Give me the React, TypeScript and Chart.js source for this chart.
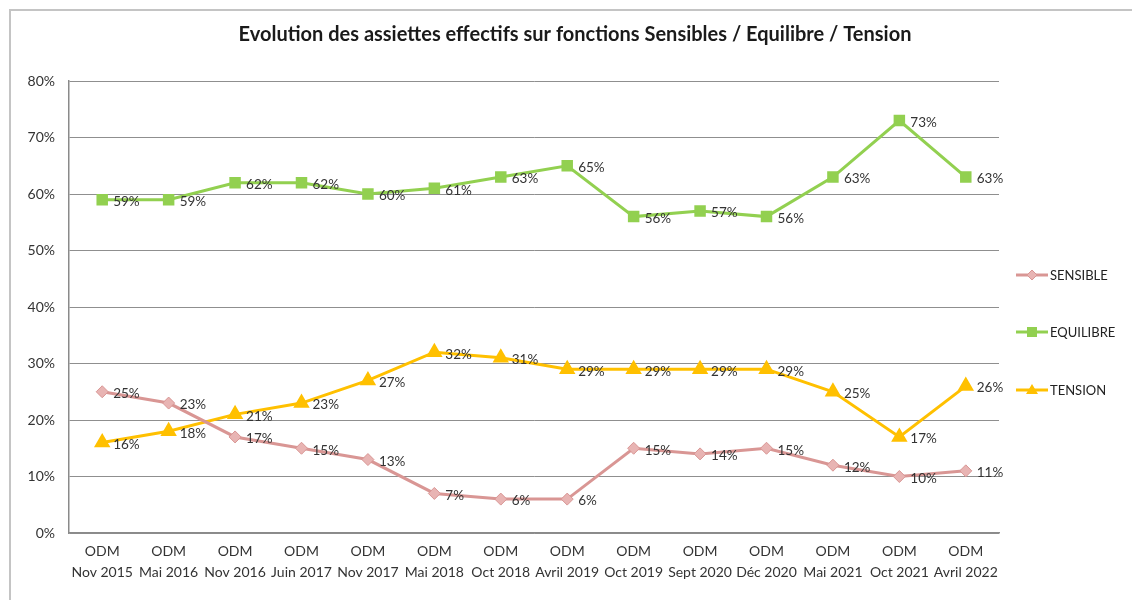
import React, { useEffect, useRef } from "react";
import { Chart, registerables } from "chart.js";

Chart.register(...registerables);

const categories: string[][] = [
  ["ODM", "Nov 2015"], ["ODM", "Mai 2016"], ["ODM", "Nov 2016"], ["ODM", "Juin 2017"],
  ["ODM", "Nov 2017"], ["ODM", "Mai 2018"], ["ODM", "Oct 2018"], ["ODM", "Avril 2019"],
  ["ODM", "Oct 2019"], ["ODM", "Sept 2020"], ["ODM", "Déc 2020"], ["ODM", "Mai 2021"],
  ["ODM", "Oct 2021"], ["ODM", "Avril 2022"],
];
const sensible = [25, 23, 17, 15, 13, 7, 6, 6, 15, 14, 15, 12, 10, 11];
const equilibre = [59, 59, 62, 62, 60, 61, 63, 65, 56, 57, 56, 63, 73, 63];
const tension = [16, 18, 21, 23, 27, 32, 31, 29, 29, 29, 29, 25, 17, 26];
const titleText = "Evolution des assiettes effectifs sur fonctions Sensibles / Equilibre / Tension";
const FONT = "Lato, 'Open Sans', sans-serif";

const overlay = {
  id: "overlay",
  beforeDraw(chart: any) {
    const ctx = chart.ctx;
    ctx.save();
    ctx.fillStyle = "#ffffff";
    ctx.fillRect(0, 0, chart.width, chart.height);
    ctx.strokeStyle = "#c4c4c4";
    ctx.lineWidth = 2;
    ctx.beginPath();
    ctx.moveTo(10, 600);
    ctx.lineTo(10, 10);
    ctx.lineTo(1132, 10);
    ctx.stroke();
    ctx.restore();
  },
  afterDatasetsDraw(chart: any) {
    const ctx = chart.ctx;
    ctx.save();
    ctx.font = `13.5px ${FONT}`;
    ctx.fillStyle = "#333333";
    ctx.textAlign = "left";
    ctx.textBaseline = "middle";
    chart.data.datasets.forEach((ds: any, i: number) => {
      const meta = chart.getDatasetMeta(i);
      meta.data.forEach((pt: any, j: number) => {
        ctx.fillText(ds.data[j] + "%", pt.x + 11, pt.y + 2);
      });
    });
    ctx.font = `bold 20px ${FONT}`;
    ctx.fillStyle = "#1a1a1a";
    ctx.textAlign = "center";
    ctx.fillText(titleText, 575, 35);
    const ys = [275, 332, 390];
    chart.data.datasets.forEach((ds: any, i: number) => {
      const y = ys[i];
      ctx.strokeStyle = ds.borderColor;
      ctx.lineWidth = 3;
      ctx.beginPath();
      ctx.moveTo(1016, y);
      ctx.lineTo(1048, y);
      ctx.stroke();
      const cx = 1032;
      ctx.fillStyle = ds.pointBackgroundColor;
      ctx.strokeStyle = ds.pointBorderColor;
      ctx.lineWidth = 1;
      if (ds.pointStyle === "rectRot") {
        ctx.beginPath();
        ctx.moveTo(cx, y - 5);
        ctx.lineTo(cx + 5, y);
        ctx.lineTo(cx, y + 5);
        ctx.lineTo(cx - 5, y);
        ctx.closePath();
        ctx.fill();
        ctx.stroke();
      } else if (ds.pointStyle === "rect") {
        ctx.fillRect(cx - 5, y - 5, 10, 10);
      } else {
        ctx.beginPath();
        ctx.moveTo(cx, y - 6);
        ctx.lineTo(cx + 6, y + 4);
        ctx.lineTo(cx - 6, y + 4);
        ctx.closePath();
        ctx.fill();
      }
      ctx.font = `13px ${FONT}`;
      ctx.fillStyle = "#222222";
      ctx.textAlign = "left";
      ctx.textBaseline = "middle";
      ctx.fillText(ds.label, 1050, y + 1);
    });
    ctx.restore();
  },
};

export default function App() {
  const ref = useRef<HTMLCanvasElement | null>(null);
  useEffect(() => {
    document.body.style.overflow = "hidden";
    const chart = new Chart(ref.current as HTMLCanvasElement, {
      type: "line",
      data: {
        labels: categories,
        datasets: [
          {
            label: "SENSIBLE",
            data: sensible,
            borderColor: "#D99694",
            backgroundColor: "#D99694",
            pointBackgroundColor: "#E8B4B3",
            pointBorderColor: "#D99694",
            pointStyle: "rectRot",
            pointRadius: 6,
            pointBorderWidth: 1,
            borderWidth: 3,
          },
          {
            label: "EQUILIBRE",
            data: equilibre,
            borderColor: "#92D050",
            backgroundColor: "#92D050",
            pointBackgroundColor: "#92D050",
            pointBorderColor: "#92D050",
            pointStyle: "rect",
            pointRadius: 6,
            borderWidth: 3,
          },
          {
            label: "TENSION",
            data: tension,
            borderColor: "#FFC000",
            backgroundColor: "#FFC000",
            pointBackgroundColor: "#FFC000",
            pointBorderColor: "#FFC000",
            pointStyle: "triangle",
            pointRadius: 6.5,
            borderWidth: 3,
          },
        ],
      },
      options: {
        responsive: false,
        animation: false,
        layout: { padding: { top: 81, right: 133, left: 0, bottom: 0 } },
        plugins: { legend: { display: false }, title: { display: false }, tooltip: { enabled: false } },
        scales: {
          x: {
            offset: true,
            grid: { display: false, drawTicks: false },
            border: { display: true, color: "#8a8a8a", width: 1.5 },
            ticks: {
              color: "#333333",
              font: { family: FONT, size: 14, lineHeight: 1.5 },
              padding: 8,
              maxRotation: 0,
              autoSkip: false,
            },
            afterFit(scale: any) {
              scale.height = 67;
            },
          },
          y: {
            min: 0,
            max: 80,
            grid: { color: "#8f8f8f", lineWidth: 1, drawTicks: false },
            border: { display: true, color: "#8a8a8a", width: 1.5 },
            ticks: {
              stepSize: 10,
              color: "#333333",
              font: { family: FONT, size: 14 },
              padding: 14,
              callback: (v: any) => v + "%",
            },
            afterFit(scale: any) {
              scale.width = 69;
            },
          },
        },
      },
      plugins: [overlay],
    });
    return () => chart.destroy();
  }, []);
  return (
    <canvas
      ref={ref}
      width={1132}
      height={600}
      style={{ position: "fixed", left: 0, top: 0, width: 1132, height: 600 }}
    />
  );
}
